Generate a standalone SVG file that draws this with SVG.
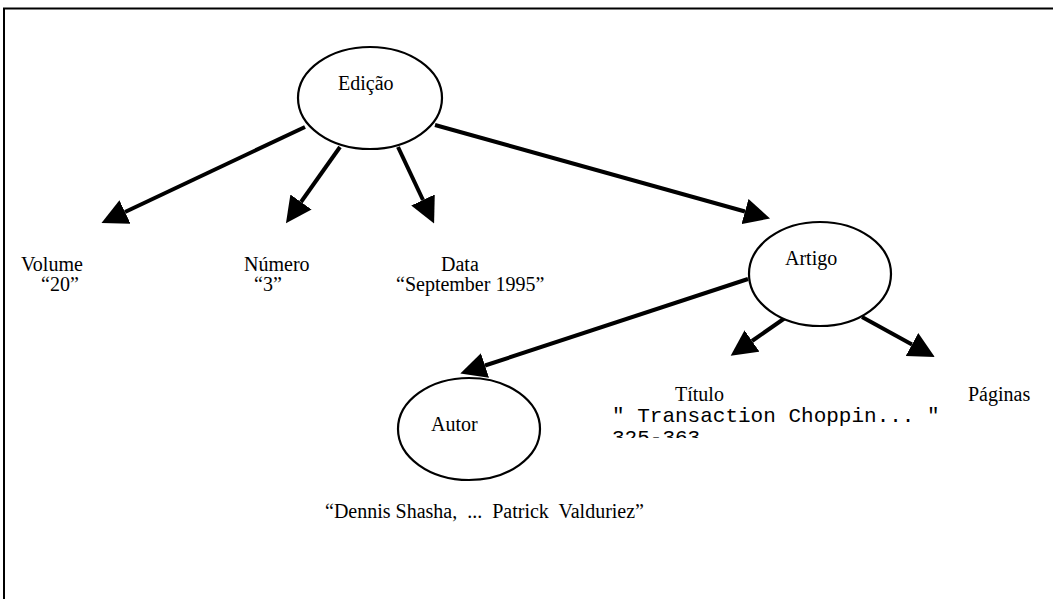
<svg xmlns="http://www.w3.org/2000/svg" width="1053" height="599" viewBox="0 0 1053 599">
  <style>
    .node { fill: #ffffff; stroke: #000000; stroke-width: 2.2; }
    .lbl { font-family: "Liberation Serif", "Times New Roman", serif; font-size: 20px; fill: #000000; }
    .mono { font-family: "Liberation Mono", "Courier New", monospace; font-size: 21px; fill: #000000; }
    .edge { stroke: #000000; stroke-width: 4; fill: none; marker-end: url(#head); }
    .frame { stroke: #000000; stroke-width: 2; fill: none; }
  </style>
  <defs>
    <marker id="head" viewBox="0 -13 26 26" refX="0" refY="0" markerWidth="26" markerHeight="26" markerUnits="userSpaceOnUse" orient="auto">
      <path d="M0,-13 L26,0 L0,13 z" fill="#000000"/>
    </marker>
    <clipPath id="boxClip">
      <rect x="600" y="406" width="380" height="32"/>
    </clipPath>
  </defs>

  <rect width="1053" height="599" fill="#ffffff"/>

  <!-- page frame: top and left rule -->
  <path class="frame" d="M4,599 L4,8.5 L1053,8.5"/>

  <!-- connectors -->
  <g id="connectors">
    <line class="edge" x1="305" y1="127" x2="125" y2="212"/>
    <line class="edge" x1="340" y1="147" x2="301" y2="202"/>
    <line class="edge" x1="398" y1="147" x2="423" y2="200"/>
    <line class="edge" x1="435" y1="125" x2="745" y2="211.5"/>
    <line class="edge" x1="748" y1="279" x2="485" y2="365.5"/>
    <line class="edge" x1="785" y1="318" x2="752" y2="341"/>
    <line class="edge" x1="862" y1="317" x2="912" y2="344.5"/>
  </g>

  <g id="edicao">
    <ellipse class="node" cx="370" cy="98" rx="72" ry="51"/>
    <text class="lbl" x="338" y="90">Edição</text>
  </g>

  <g id="volume">
    <text class="lbl" x="21" y="271">Volume</text>
    <text class="lbl" x="41" y="291">“20”</text>
  </g>

  <g id="numero">
    <text class="lbl" x="244" y="271">Número</text>
    <text class="lbl" x="254" y="291">“3”</text>
  </g>

  <g id="data">
    <text class="lbl" x="441" y="271">Data</text>
    <text class="lbl" x="396" y="291">“September 1995”</text>
  </g>

  <g id="artigo">
    <ellipse class="node" cx="820" cy="274" rx="71" ry="52"/>
    <text class="lbl" x="785" y="265">Artigo</text>
  </g>

  <g id="autor">
    <ellipse class="node" cx="469" cy="429" rx="71" ry="51"/>
    <text class="lbl" x="431" y="431">Autor</text>
    <text class="lbl" x="325" y="518" font-size="21" xml:space="preserve">“Dennis Shasha,  ...  Patrick  Valduriez”</text>
  </g>

  <g id="titulo">
    <text class="lbl" x="675" y="401">Título</text>
    <!-- title box, cut off below the first line -->
    <g clip-path="url(#boxClip)">
      <text class="mono" x="612" y="422" xml:space="preserve">" Transaction Choppin... ″</text>
      <text class="mono" x="612" y="444">325-363</text>
    </g>
  </g>

  <g id="paginas">
    <text class="lbl" x="968" y="401">Páginas</text>
  </g>
</svg>
